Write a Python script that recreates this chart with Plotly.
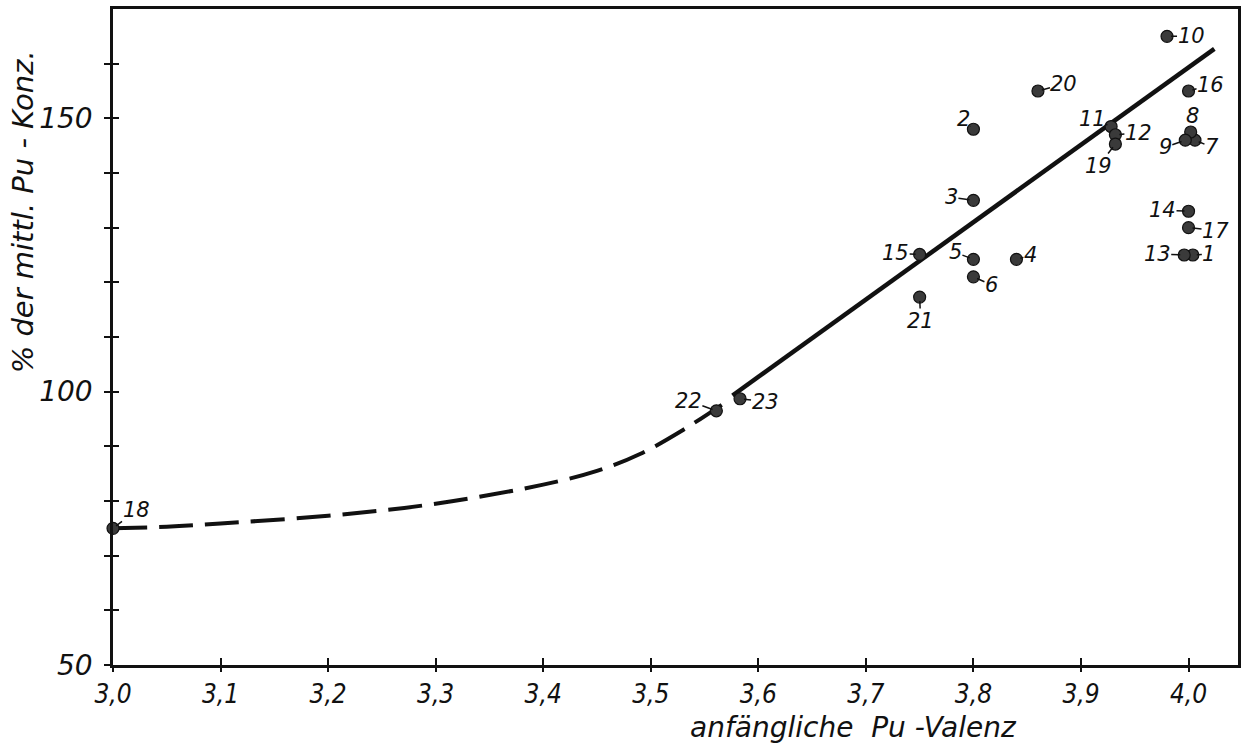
import plotly.graph_objects as go

# Sample numbers with initial Pu valence and Pu concentration (% of mean)
sample_no = list(range(1, 24))
valence = [4.004, 3.80, 3.80, 3.84, 3.80, 3.80, 4.006, 4.002, 3.997, 3.98,
           3.928, 3.932, 3.996, 4.00, 3.75, 4.00, 4.00, 3.00, 3.932, 3.86,
           3.75, 3.561, 3.583]
conc = [125.0, 148.0, 135.0, 124.2, 124.2, 121.0, 146.0, 147.5, 146.0, 165.0,
        148.5, 147.0, 125.0, 133.0, 125.1, 155.0, 130.0, 75.0, 145.3, 155.0,
        117.3, 96.5, 98.7]

# Straight fit through the tetravalent region
fit_valence = [3.576, 4.024]
fit_conc = [99.3, 162.7]

# Dashed extrapolation toward trivalent Pu
curve_valence = [3.00, 3.05, 3.10, 3.20, 3.30, 3.40, 3.45, 3.49, 3.53, 3.566]
curve_conc = [75.0, 75.3, 75.9, 77.3, 79.5, 83.0, 85.5, 88.6, 93.0, 97.6]

x_ticks = [3.0, 3.1, 3.2, 3.3, 3.4, 3.5, 3.6, 3.7, 3.8, 3.9, 4.0]
x_ticktext = ["3,0", "3,1", "3,2", "3,3", "3,4", "3,5", "3,6", "3,7", "3,8", "3,9", "4,0"]
y_ticks = [50, 60, 70, 80, 90, 100, 110, 120, 130, 140, 150, 160]
y_ticktext = ["50", "", "", "", "", "100", "", "", "", "", "150", ""]

# Label placement (pixel offsets of each number from its point)
label_offset = {
    1: (16, -1), 2: (-10, -10), 3: (-22, -3), 4: (14, -4), 5: (-18, -7),
    6: (18, 8), 7: (17, 7), 8: (2, -16), 9: (-20, 7), 10: (24, 0),
    11: (-19, -8), 12: (23, -2), 13: (-27, -1), 14: (-26, -1), 15: (-24, -1),
    16: (22, -6), 17: (27, 3), 18: (23, -18), 19: (-17, 22), 20: (26, -7),
    21: (1, 24), 22: (-28, -10), 23: (25, 3),
}

INK = "#111111"
FONT = "DejaVu Sans"
NARROW = "Liberation Sans Narrow, DejaVu Sans Condensed, DejaVu Sans"

fig = go.Figure()
fig.add_trace(go.Scatter(
    x=curve_valence, y=curve_conc, mode="lines",
    line=dict(color=INK, width=4, dash="34px,12px", shape="spline"),
    hoverinfo="skip", showlegend=False, cliponaxis=False,
))
fig.add_trace(go.Scatter(
    x=fit_valence, y=fit_conc, mode="lines",
    line=dict(color=INK, width=4.5),
    hoverinfo="skip", showlegend=False,
))
fig.add_trace(go.Scatter(
    x=valence, y=conc, mode="markers",
    marker=dict(size=12, color="#3a3a3a", line=dict(color=INK, width=1.2)),
    text=[str(n) for n in sample_no], showlegend=False, cliponaxis=False,
))

annotations = []
for n, xv, yv in zip(sample_no, valence, conc):
    dx, dy = label_offset[n]
    annotations.append(dict(
        x=xv, y=yv, xref="x", yref="y", text=str(n),
        showarrow=True, arrowhead=0, arrowwidth=1.5, arrowcolor=INK,
        ax=dx, ay=dy, standoff=4, borderpad=0,
        font=dict(family=FONT, size=21, color=INK, style="italic"),
    ))

annotations.append(dict(
    text="anfängliche  Pu -Valenz", xref="paper", yref="paper",
    x=0.658, y=-0.096, xanchor="center", yanchor="middle", showarrow=False,
    font=dict(family=FONT, size=28, color=INK, style="italic"),
))
annotations.append(dict(
    text="% der mittl. Pu - Konz.", xref="paper", yref="paper",
    x=-0.08, y=0.69, xanchor="center", yanchor="middle", showarrow=False,
    textangle=-90,
    font=dict(family=FONT, size=29, color=INK, style="italic"),
))

axis_common = dict(showgrid=False, zeroline=False, showline=True, linecolor=INK,
                   linewidth=2.5, mirror=True, tickcolor=INK, tickwidth=1.5)

fig.update_layout(
    width=1246, height=746,
    margin=dict(l=113, r=5, t=9, b=81),
    paper_bgcolor="white", plot_bgcolor="white",
    showlegend=False,
    annotations=annotations,
    xaxis=dict(range=[3.0, 4.046], tickvals=x_ticks, ticktext=x_ticktext,
               ticks="outside", ticklen=4,
               tickfont=dict(family=NARROW, size=26, color=INK, style="italic"),
               **axis_common),
    yaxis=dict(range=[50, 170], tickvals=y_ticks, ticktext=y_ticktext,
               ticks="outside", ticklen=6, ticklabelstandoff=6,
               tickfont=dict(family=FONT, size=28, color=INK, style="italic"),
               **axis_common),
    # Overlay axes supply the inner half of the crossing tick marks
    xaxis2=dict(range=[3.0, 4.046], overlaying="x", anchor="y2", side="bottom",
                tickvals=x_ticks, ticks="inside", ticklen=7, tickwidth=1.5,
                tickcolor=INK, showticklabels=False, showgrid=False,
                zeroline=False, showline=False),
    yaxis2=dict(range=[50, 170], overlaying="y", anchor="x2", side="left",
                tickvals=y_ticks, ticks="inside", ticklen=6, tickwidth=1.5,
                tickcolor=INK, showticklabels=False, showgrid=False,
                zeroline=False, showline=False),
)
fig.add_trace(go.Scatter(x=[3.0], y=[50], xaxis="x2", yaxis="y2", mode="markers",
                         marker=dict(size=0.1, opacity=0), hoverinfo="skip",
                         showlegend=False))

fig.write_html("out.html")
